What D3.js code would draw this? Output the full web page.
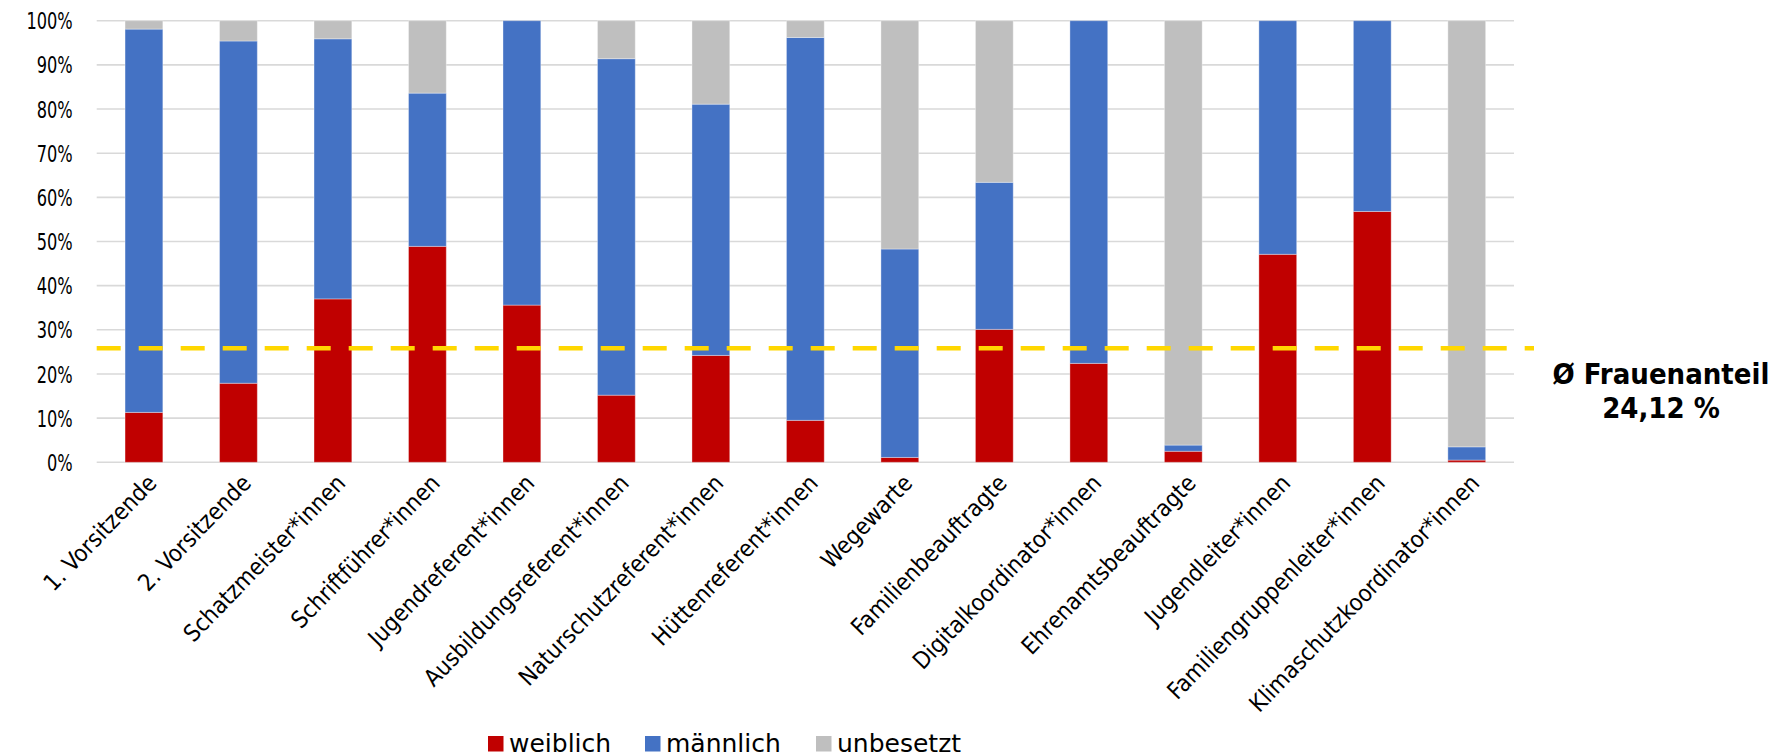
<!DOCTYPE html>
<html>
<head>
<meta charset="utf-8">
<script src="https://cdn.jsdelivr.net/npm/d3@7"></script>
<style>
  html, body { margin: 0; padding: 0; background: #fff; }
  svg { display: block; }
  text { font-family: "DejaVu Sans", sans-serif; fill: #000; }
</style>
</head>
<body>
<svg id="chart" width="1777" height="756"></svg>
<script>
// ---- Data (shares) ----
const categories = [
  "1. Vorsitzende", "2. Vorsitzende", "Schatzmeister*innen", "Schriftführer*innen",
  "Jugendreferent*innen", "Ausbildungsreferent*innen", "Naturschutzreferent*innen",
  "Hüttenreferent*innen", "Wegewarte", "Familienbeauftragte", "Digitalkoordinator*innen",
  "Ehrenamtsbeauftragte", "Jugendleiter*innen", "Familiengruppenleiter*innen",
  "Klimaschutzkoordinator*innen"
];
const weiblich  = [11.3, 17.9, 37.0, 48.9, 35.6, 15.2, 24.2,  9.5,  1.1, 30.1, 22.4,  2.5, 47.1, 56.8,  0.5];
const maennlich = [86.8, 77.5, 58.9, 34.7, 64.4, 76.2, 56.9, 86.7, 47.2, 33.3, 77.6,  1.4, 52.9, 43.2,  3.0];
const unbesetzt = [ 1.9,  4.6,  4.1, 16.4,  0.0,  8.6, 18.9,  3.8, 51.7, 36.6,  0.0, 96.1,  0.0,  0.0, 96.5];
const seriesNames = ["weiblich", "männlich", "unbesetzt"];
const seriesColors = ["#C00000", "#4472C4", "#BFBFBF"];
const yTicks = [0, 10, 20, 30, 40, 50, 60, 70, 80, 90, 100];
const avgLineValue = 25.8;           // position of the dashed line as drawn
const avgLabel = ["Ø Frauenanteil", "24,12 %"];

// ---- Build table for stacking ----
const table = categories.map((c, i) => ({
  cat: c, weiblich: weiblich[i], "männlich": maennlich[i], unbesetzt: unbesetzt[i]
}));
const stacked = d3.stack().keys(seriesNames)(table);

const svg = d3.select("#chart");
const plotLeft = 96.7, plotRight = 1514, plotTop = 20.7, plotBottom = 462.3;

const x = d3.scaleBand().domain(categories).range([plotLeft, plotRight])
  .paddingInner(0.6).paddingOuter(0.3);
const y = d3.scaleLinear().domain([0, 100]).range([plotBottom, plotTop]);
const color = d3.scaleOrdinal().domain(seriesNames).range(seriesColors);

// gridlines
svg.append("g")
  .selectAll("line").data(yTicks).join("line")
  .attr("x1", plotLeft).attr("x2", plotRight)
  .attr("y1", d => y(d)).attr("y2", d => y(d))
  .attr("stroke", "#D9D9D9").attr("stroke-width", 1.6);

// y axis labels
const yAxis = d3.axisLeft(y).tickValues(yTicks).tickFormat(d => d + "%").tickSize(0).tickPadding(0);
const gy = svg.append("g").attr("transform", `translate(${plotLeft - 24},0)`).call(yAxis);
gy.select(".domain").remove();
gy.selectAll("text")
  .style("font-family", '"DejaVu Sans", sans-serif')
  .style("font-stretch", "condensed")
  .style("font-size", "22.5px").attr("fill", "#000").attr("dy", "0.36em")
  .attr("transform", "scale(0.8,1)");

// bars
svg.append("g").selectAll("g").data(stacked).join("g")
  .attr("fill", d => color(d.key))
  .selectAll("rect").data(d => d).join("rect")
  .attr("x", d => x(d.data.cat))
  .attr("width", x.bandwidth())
  .attr("y", d => y(d[1]))
  .attr("height", d => Math.max(0, y(d[0]) - y(d[1])))
  .attr("stroke", "#ffffff").attr("stroke-opacity", 0.35).attr("stroke-width", 1);

// x axis labels (rotated)
const xAxis = d3.axisBottom(x).tickSize(0).tickPadding(0);
const gx = svg.append("g").attr("transform", `translate(0,${plotBottom})`).call(xAxis);
gx.select(".domain").remove();
gx.selectAll("text")
  .attr("text-anchor", "end")
  .attr("dy", 0).attr("y", 0)
  .attr("transform", "translate(14,22) rotate(-46)")
  .style("font-family", '"DejaVu Sans", sans-serif')
  .style("font-stretch", "condensed")
  .style("font-size", "23.5px").attr("fill", "#000");

// average line
svg.append("line")
  .attr("x1", plotLeft).attr("x2", 1534)
  .attr("y1", y(avgLineValue)).attr("y2", y(avgLineValue))
  .attr("stroke", "#FFD700").attr("stroke-width", 4.5)
  .attr("stroke-dasharray", "24 18");

// annotation
const ann = svg.append("text")
  .attr("x", 1661).attr("y", 384)
  .attr("text-anchor", "middle")
  .style("font-weight", "bold").style("font-size", "29px")
  .style("font-stretch", "condensed");
ann.selectAll("tspan").data(avgLabel).join("tspan")
  .attr("x", 1661).attr("dy", (d, i) => i === 0 ? 0 : 34).text(d => d);

// legend
const legendX = [488, 645, 816];
const lg = svg.append("g").selectAll("g").data(seriesNames).join("g")
  .attr("transform", (d, i) => `translate(${legendX[i]},736)`);
lg.append("rect").attr("width", 15.5).attr("height", 15.5).attr("fill", d => color(d));
lg.append("text").attr("x", 21).attr("y", 15.5).style("font-size", "25px").text(d => d);
</script>
</body>
</html>
